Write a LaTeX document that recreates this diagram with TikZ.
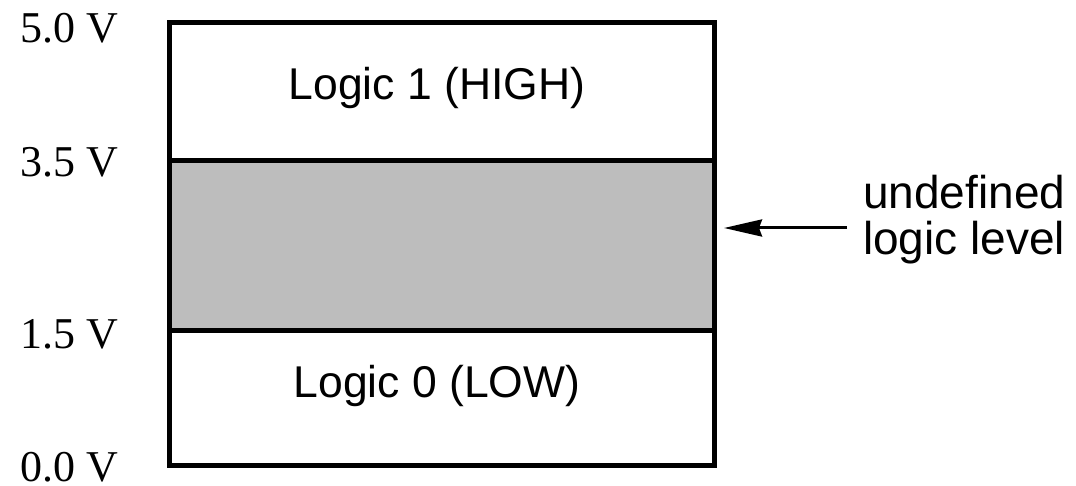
\documentclass[tikz,border=0pt]{standalone}
\usepackage{fontspec}
\setmainfont{Liberation Serif}
\newfontfamily\labelsans{Liberation Sans}
\usetikzlibrary{arrows.meta}
\tikzset{
  volt/.style={anchor=west, inner sep=0pt, font=\fontsize{44}{50}\selectfont},
  region/.style={inner sep=0pt, font=\labelsans\fontsize{44.5}{50}\selectfont},
  note/.style={anchor=west, inner sep=0pt, align=left, font=\labelsans\fontsize{46}{46}\selectfont},
  frame/.style={line width=5pt},
  pointer/.style={line width=3pt, -{Stealth[length=38pt, width=17pt, inset=3pt]}}
}
\begin{document}
\begin{tikzpicture}[x=1pt, y=-1pt]
  \useasboundingbox (0,0) rectangle (1076,486);
  % undefined band between 1.5 V and 3.5 V
  \fill[black!26] (169.5,160.5) rectangle (714.5,330.5);
  % outer frame and level boundaries
  \draw[frame] (169.5,23) rectangle (714.5,465.5);
  \draw[frame] (169.5,160.5) -- (714.5,160.5);
  \draw[frame] (169.5,330.5) -- (714.5,330.5);
  % voltage scale
  \node[volt] (v50) at (20,28) {5.0 V};
  \node[volt] (v35) at (20,162) {3.5 V};
  \node[volt] (v15) at (20,334) {1.5 V};
  \node[volt] (v00) at (20,467) {0.0 V};
  % logic regions
  \node[region] (high) at (437,88) {Logic 1 (HIGH)};
  \node[region] (low) at (437,386) {Logic 0 (LOW)};
  % annotation
  \node[note] (undef) at (863,220) {undefined\\logic level};
  \coordinate (tip) at (724,228);
  \draw[pointer] (undef.west |- tip) ++(-16,0) -- (tip);
\end{tikzpicture}
\end{document}
